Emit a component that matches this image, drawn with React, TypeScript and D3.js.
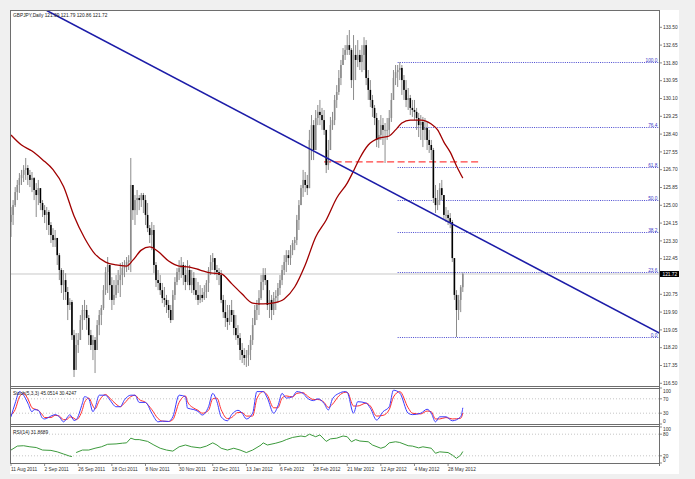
import React from 'react';
import * as d3 from 'd3';

const W = 695, H = 479;

// ---- price data (daily bars, index 0 = 11 Aug 2011) ----
const firstOpen = 124.2;
const closes = [
  124.54, 125.01, 125.63, 125.97, 126.30, 126.45, 126.69, 126.78, 126.45, 126.21,
  126.30, 125.73, 125.49, 125.82, 125.11, 124.77, 124.54, 124.68, 124.06, 123.58,
  123.34, 123.44, 122.62, 121.91, 121.19, 121.43, 120.86, 120.24, 120.38, 118.80,
  117.14, 118.33, 118.57, 119.52, 120.00, 120.00, 119.62, 118.80, 118.33, 118.57,
  118.09, 119.28, 119.76, 120.09, 120.95, 121.81, 122.15, 121.19, 120.48, 120.72,
  121.19, 121.43, 121.67, 122.00, 122.15, 122.29, 122.38, 125.97, 124.77, 125.25,
  125.35, 125.25, 125.49, 125.25, 124.54, 123.91, 123.58, 123.82, 122.15, 121.43,
  121.29, 120.95, 120.57, 120.48, 120.24, 120.00, 119.52, 120.72, 121.34, 121.81,
  122.00, 122.15, 121.67, 121.34, 121.91, 121.19, 121.53, 120.95, 120.72, 120.48,
  120.72, 120.57, 120.86, 121.29, 121.91, 122.29, 122.48, 121.91, 121.81, 121.67,
  120.48, 119.90, 119.62, 119.43, 120.00, 119.76, 119.14, 118.80, 118.66, 118.09,
  117.85, 117.71, 117.85, 118.09, 118.57, 119.28, 120.00, 120.24, 120.57, 121.34,
  121.67, 121.43, 120.24, 120.48, 120.00, 120.57, 120.67, 121.05, 121.43, 121.91,
  122.29, 122.62, 122.48, 122.86, 123.20, 123.34, 124.30, 125.01, 125.82, 126.21,
  125.97, 125.82, 128.12, 128.83, 127.64, 129.17, 129.46, 129.31, 129.07, 128.60,
  126.92, 127.64, 128.83, 129.07, 130.03, 130.41, 131.08, 131.70, 132.18, 132.42,
  132.65, 132.42, 130.98, 132.18, 131.94, 132.18, 131.84, 132.18, 132.65, 131.08,
  130.51, 130.03, 129.65, 129.17, 128.12, 128.36, 128.83, 128.60, 128.60, 128.60,
  129.17, 130.03, 131.08, 131.36, 131.46, 131.56, 130.98, 130.51, 130.03, 130.12,
  129.65, 129.55, 129.46, 129.17, 128.83, 128.98, 128.60, 128.69, 128.12, 127.88,
  127.64, 125.35, 125.01, 125.25, 125.82, 125.49, 124.54, 124.54, 124.39, 124.20,
  122.48, 120.72, 120.00, 120.48, 121.09, 121.72,
];
const highs = [
  124.92, 125.25, 125.87, 126.21, 126.54, 126.69, 126.92, 127.26, 126.92, 126.69,
  126.59, 126.35, 126.06, 126.21, 125.73, 125.25, 125.01, 124.92, 124.77, 124.20,
  123.91, 123.82, 123.34, 122.72, 122.00, 121.91, 121.76, 121.10, 120.57, 120.48,
  119.05, 118.90, 118.90, 119.76, 120.24, 120.48, 120.24, 119.76, 119.05, 118.80,
  118.71, 119.52, 120.00, 120.24, 121.19, 122.05, 122.53, 121.91, 121.57, 121.43,
  121.67, 121.91, 122.24, 122.29, 122.38, 122.53, 122.62, 127.26, 125.97, 125.49,
  125.73, 125.49, 125.59, 125.59, 125.49, 125.11, 124.06, 124.20, 124.06, 122.29,
  121.91, 121.67, 121.29, 121.10, 120.72, 120.48, 120.24, 120.95, 121.57, 122.00,
  122.38, 122.53, 122.29, 122.15, 122.38, 122.15, 121.91, 121.81, 121.53, 121.34,
  121.19, 121.05, 121.19, 121.43, 122.05, 122.62, 122.72, 122.48, 122.15, 122.00,
  121.91, 120.72, 120.48, 120.24, 120.24, 120.48, 120.00, 119.76, 119.28, 118.90,
  118.42, 118.18, 118.09, 118.33, 118.80, 119.62, 120.24, 120.48, 120.95, 121.67,
  122.00, 122.00, 121.34, 120.95, 120.72, 120.86, 120.95, 121.29, 121.67, 122.15,
  122.62, 122.86, 122.86, 123.10, 123.34, 123.49, 124.54, 125.25, 125.97, 126.69,
  126.59, 126.45, 128.60, 129.31, 129.07, 129.55, 129.79, 130.03, 129.65, 129.55,
  128.60, 128.12, 129.22, 129.46, 130.27, 130.74, 131.46, 131.94, 132.51, 132.65,
  133.13, 133.37, 132.51, 133.13, 132.65, 132.89, 132.42, 132.65, 133.03, 132.89,
  131.46, 130.98, 130.27, 129.79, 129.41, 129.07, 129.31, 129.17, 128.93, 129.17,
  129.55, 130.36, 131.46, 131.70, 131.70, 131.84, 131.70, 131.22, 130.98, 130.60,
  130.27, 130.03, 130.03, 129.65, 129.41, 129.31, 129.22, 129.17, 128.98, 128.60,
  128.12, 127.74, 125.97, 125.73, 126.06, 126.21, 125.49, 124.92, 124.77, 124.63,
  124.30, 122.48, 120.95, 120.72, 121.19, 121.79,
];
const lows = [
  123.49, 124.06, 124.92, 125.25, 125.59, 125.97, 126.11, 126.21, 125.97, 125.87,
  125.63, 125.25, 124.44, 125.01, 124.77, 124.44, 124.15, 123.82, 123.58, 123.20,
  123.01, 123.01, 122.15, 121.43, 120.81, 120.48, 120.48, 119.52, 120.00, 118.57,
  116.80, 117.37, 117.95, 118.57, 119.05, 119.52, 119.05, 118.33, 118.09, 117.61,
  116.99, 118.09, 118.80, 119.28, 120.00, 120.72, 120.81, 120.48, 120.00, 120.24,
  120.57, 120.81, 120.62, 121.19, 121.57, 121.81, 121.91, 121.81, 124.30, 124.06,
  124.54, 124.77, 124.92, 124.63, 124.06, 123.72, 123.20, 122.86, 121.76, 121.10,
  120.95, 120.72, 120.33, 120.14, 119.86, 119.62, 119.38, 119.76, 120.48, 121.19,
  121.43, 121.53, 121.19, 120.95, 121.19, 120.95, 120.81, 120.72, 120.48, 120.24,
  120.33, 120.38, 120.48, 120.57, 120.86, 121.67, 121.91, 121.67, 121.43, 121.19,
  120.33, 119.62, 119.19, 119.05, 119.28, 119.43, 118.80, 118.57, 118.33, 117.61,
  117.47, 117.37, 117.28, 117.33, 117.61, 118.33, 119.28, 119.52, 119.76, 120.48,
  120.95, 121.19, 120.00, 119.62, 119.52, 119.76, 120.00, 120.33, 120.72, 121.19,
  121.67, 121.81, 122.15, 122.15, 122.62, 122.86, 123.10, 123.82, 125.01, 125.40,
  125.63, 125.49, 125.97, 127.16, 127.16, 128.36, 128.83, 128.83, 128.60, 128.36,
  126.54, 126.69, 128.12, 128.60, 128.83, 129.65, 130.27, 130.74, 131.70, 131.94,
  132.18, 132.18, 130.60, 130.03, 130.98, 131.60, 131.46, 131.36, 131.46, 130.74,
  130.03, 129.69, 129.22, 128.83, 127.78, 127.74, 128.12, 127.88, 127.02, 128.12,
  128.36, 128.98, 130.03, 130.74, 130.65, 130.98, 130.27, 130.03, 129.69, 129.55,
  129.31, 129.22, 129.07, 128.60, 128.26, 128.12, 127.78, 128.12, 127.64, 127.50,
  127.16, 125.11, 124.63, 124.77, 125.01, 125.25, 124.30, 124.20, 124.06, 123.91,
  122.29, 120.48, 118.71, 119.52, 119.90, 120.86,
];

// moving average (sampled at bar indices)
const maIdx = [0, 5, 10, 15, 20, 25, 30, 35, 40, 45, 50, 55, 58, 62, 66, 70, 75, 80, 85, 90, 95, 100, 105, 110, 115, 120, 125, 130, 135, 140, 145, 150, 155, 160, 163, 166, 170, 175, 180, 183, 186, 190, 195, 200, 203, 206, 209, 212, 215];
const maVal = [128.36, 127.88, 127.59, 127.18, 126.70, 125.90, 124.49, 123.44, 122.67, 122.29, 122.15, 122.10, 122.38, 122.86, 123.01, 122.79, 122.34, 122.10, 122.05, 121.91, 121.77, 121.72, 121.26, 120.76, 120.33, 120.29, 120.34, 120.53, 121.10, 122.15, 123.49, 124.30, 125.35, 126.06, 126.64, 127.26, 127.88, 128.21, 128.31, 128.60, 128.93, 129.07, 129.07, 128.88, 128.60, 128.02, 127.54, 126.88, 126.30];

// stochastic (5,3,3)
const stochIdx = [0, 2, 4, 6, 8, 10, 11, 13, 15, 16, 19, 21, 23, 25, 27, 28, 30, 31, 34, 35, 37, 39, 40, 42, 45, 47, 50, 52, 54, 57, 59, 61, 64, 67, 70, 72, 75, 77, 80, 83, 84, 87, 89, 91, 94, 96, 98, 100, 103, 105, 108, 110, 112, 115, 117, 120, 122, 125, 127, 129, 131, 134, 136, 139, 141, 144, 146, 149, 151, 153, 156, 159, 160, 163, 165, 169, 171, 174, 177, 180, 182, 185, 189, 191, 195, 198, 200, 202, 204, 207, 210, 214, 215];
const stochK = [20, 58, 90, 80, 58, 34, 40, 38, 16, 14, 22, 26, 20, 6, 20, 26, 10, 12, 58, 76, 70, 34, 45, 80, 80, 67, 48, 48, 67, 80, 80, 60, 60, 30, 6, 8, 7, 20, 80, 76, 44, 40, 35, 25, 48, 85, 62, 20, 9, 26, 38, 30, 14, 30, 90, 90, 72, 30, 50, 85, 72, 76, 90, 85, 72, 65, 70, 57, 39, 70, 85, 90, 88, 30, 62, 58, 44, 11, 34, 48, 94, 86, 30, 26, 30, 41, 30, 6, 20, 20, 9, 20, 45.05];
const stochD = [25, 40, 75, 85, 70, 45, 42, 38, 25, 18, 18, 24, 22, 12, 14, 20, 16, 12, 40, 60, 72, 50, 42, 65, 82, 72, 55, 48, 58, 76, 80, 68, 60, 40, 15, 8, 7, 12, 60, 78, 62, 44, 38, 30, 38, 70, 72, 40, 15, 18, 32, 32, 22, 22, 70, 90, 80, 45, 45, 72, 78, 75, 85, 87, 78, 68, 68, 60, 46, 55, 78, 88, 88, 50, 50, 58, 50, 22, 24, 40, 75, 90, 45, 30, 28, 36, 34, 14, 14, 18, 14, 16, 30.42];

// RSI(14)
const rsiIdx = [0, 3, 6, 9, 12, 15, 19, 22, 25, 28, 29, 30, 31, 34, 37, 40, 43, 46, 50, 53, 55, 57, 59, 61, 65, 68, 71, 74, 77, 80, 83, 86, 90, 93, 96, 98, 100, 103, 106, 109, 112, 115, 119, 120, 122, 126, 129, 131, 134, 138, 140, 142, 145, 147, 150, 152, 155, 158, 160, 162, 164, 166, 170, 172, 176, 178, 180, 183, 185, 189, 191, 194, 196, 200, 202, 204, 208, 210, 212, 214, 215];
const rsiVal: (number | null)[] = [36, 47, 48, 45, 43, 36, 35, 31, 25, 19, 18, null, 29, 36, 36, 41, 45, 52, 53, 55, 56, 69, 65, 65, 60, 50, 41, 36, 33, 45, 50, 45, 42, 47, 56, 50, 41, 36, 41, 36, 29, 36, 50, 56, 50, 55, 60, 65, 71, 75, 73, 80, 73, 78, 60, 67, 69, 75, 73, 59, 65, 61, 59, 50, 41, 45, 56, 59, 57, 48, 47, 42, 45, 41, 27, 31, 29, 22, 13, 22, 31.87];

// objects
const trendBars = [17, 308];
const trendPrices = [134.30, 118.93];
const fibLow = 118.71, fibHigh = 131.84, fibStartBar = 184;
const fibLevels = [0, 23.6, 38.2, 50, 61.8, 76.4, 100];
const fibLabels = ['0.0', '23.6', '38.2', '50.0', '61.8', '76.4', '100.0'];
const dashLevel = 127.07, dashBars = [149, 223];
const lastPrice = 121.72;

const priceTicks = [133.50, 132.65, 131.80, 130.95, 130.10, 129.25, 128.40, 127.55, 126.70, 125.85, 125.00, 124.15, 123.30, 122.45, 120.75, 119.90, 119.05, 118.20, 117.35, 116.50];
const dateLabels = ['11 Aug 2011', '2 Sep 2011', '26 Sep 2011', '18 Oct 2011', '8 Nov 2011', '30 Nov 2011', '22 Dec 2011', '13 Jan 2012', '6 Feb 2012', '28 Feb 2012', '21 Mar 2012', '12 Apr 2012', '4 May 2012', '28 May 2012'];
const dateBars = [0, 16, 32, 48, 64, 80, 96, 112, 128, 144, 160, 176, 192, 208];
const stochTicks = [100, 70, 30, 0];
const rsiTicks = [100, 80, 20, 0];

const FONT = 'Liberation Sans, Arial, sans-serif';
const FS = 4.8;

export default function App() {
  const L = 10, R = 660;
  const x = d3.scaleLinear().domain([0, 208]).range([11, 448.1]);
  const y = d3.scaleLinear().domain([116.5, 133.5]).range([383.3, 27.3]);
  const ys = d3.scaleLinear().domain([0, 100]).range([424, 388]);
  const yr = d3.scaleLinear().domain([0, 100]).range([463, 427]);

  const opens = closes.map((c, i) => (i === 0 ? firstOpen : closes[i - 1]));

  const maLine = d3.line<number>().x((_, i) => x(maIdx[i])).y(v => y(v)).curve(d3.curveMonotoneX)(maVal) || '';
  const kLine = d3.line<number>().x((_, i) => x(stochIdx[i])).y(v => ys(v)).curve(d3.curveMonotoneX)(stochK) || '';
  const dLine = d3.line<number>().x((_, i) => x(stochIdx[i])).y(v => ys(v)).curve(d3.curveMonotoneX)(stochD) || '';
  const rLine = d3.line<number | null>().defined(v => v !== null).x((_, i) => x(rsiIdx[i])).y(v => yr(v as number))(rsiVal) || '';

  // trend line extended to the right edge
  const tx1 = x(trendBars[0]), ty1 = y(trendPrices[0]);
  const tx2 = x(trendBars[1]), ty2 = y(trendPrices[1]);
  const slope = (ty2 - ty1) / (tx2 - tx1);
  const tEndX = R + 5, tEndY = ty1 + slope * (tEndX - tx1);

  const fibX = x(fibStartBar);
  const lastY = y(lastPrice);

  return (
    <svg width={W} height={H} style={{ position: 'absolute', left: 0, top: 0, fontFamily: FONT }}>
      <defs>
        <clipPath id="cMain"><rect x={L} y={10} width={R - L} height={376} /></clipPath>
        <clipPath id="cSto"><rect x={L} y={388} width={R - L} height={36} /></clipPath>
        <clipPath id="cRsi"><rect x={L} y={427} width={R - L} height={36} /></clipPath>
      </defs>
      <rect x={0} y={0} width={W} height={H} fill="#f0f0f0" />
      <rect x={L} y={10} width={679 - L} height={464} fill="#ffffff" />

      {/* current price line */}
      <line x1={L} x2={R} y1={lastY} y2={lastY} stroke="#c8c8c8" strokeWidth={1} />

      <g clipPath="url(#cMain)">
        {/* fibonacci */}
        {fibLevels.map((lv, k) => {
          const py = Math.round(y(fibLow + (fibHigh - fibLow) * lv / 100)) + 0.5;
          return (
            <g key={'f' + k}>
              <line x1={fibX} x2={R} y1={py} y2={py} stroke="#4a4ad0" strokeWidth={1} strokeDasharray="1,1.2" />
              <text x={657.5} y={py - 1} fontSize={FS} fill="#3a3ac8" textAnchor="end">{fibLabels[k]}</text>
            </g>
          );
        })}
        {/* red dashed */}
        <line x1={x(dashBars[0])} x2={x(dashBars[1])} y1={y(dashLevel)} y2={y(dashLevel)} stroke="#ff4040" strokeWidth={1.2} strokeDasharray="7,3.5" />

        {/* candles */}
        {closes.map((c, i) => {
          const o = opens[i];
          const hi = Math.max(highs[i], o, c), lo = Math.min(lows[i], o, c);
          const xi = x(i);
          const bear = c < o;
          const top = y(Math.max(o, c)), bot = y(Math.min(o, c));
          return (
            <g key={'c' + i}>
              <line x1={xi} x2={xi} y1={y(hi)} y2={y(lo)} stroke="#8c8c8c" strokeWidth={1} />
              <rect x={xi - 0.8} y={top} width={1.6} height={Math.max(0.8, bot - top)} fill={bear ? '#000000' : '#8c8c8c'} />
            </g>
          );
        })}

        {/* moving average */}
        <path d={maLine} fill="none" stroke="#a00000" strokeWidth={1.3} />
        {/* trend line */}
        <line x1={tx1} y1={ty1} x2={tEndX} y2={tEndY} stroke="#1c1ca8" strokeWidth={1.6} />
      </g>

      {/* stochastic panel */}
      {[70, 30].map(v => (
        <line key={'sl' + v} x1={L} x2={R} y1={ys(v)} y2={ys(v)} stroke="#b8b8b8" strokeWidth={0.8} strokeDasharray="1,2" />
      ))}
      <g clipPath="url(#cSto)">
        <path d={dLine} fill="none" stroke="#ff3030" strokeWidth={1} />
        <path d={kLine} fill="none" stroke="#3c3cff" strokeWidth={1} />
      </g>
      <text x={13} y={395} fontSize={FS} fill="#202020">Stoch(5,3,3) 45.0514 30.4247</text>

      {/* RSI panel */}
      {[80, 20].map(v => (
        <line key={'rl' + v} x1={L} x2={R} y1={yr(v)} y2={yr(v)} stroke="#b8b8b8" strokeWidth={0.8} strokeDasharray="1,2" />
      ))}
      <g clipPath="url(#cRsi)">
        <path d={rLine} fill="none" stroke="#3c9a3c" strokeWidth={1} />
      </g>
      <text x={13} y={434} fontSize={FS} fill="#202020">RSI(14) 31.8689</text>

      {/* header */}
      <text x={13} y={16.7} fontSize={FS} fill="#202020">GBPJPY,Daily  121.09 121.79 120.86 121.72</text>

      {/* borders */}
      <g stroke="#6e6e6e" strokeWidth={1} fill="none">
        <line x1={L + 0.5} x2={L + 0.5} y1={10} y2={463.5} />
        <line x1={L} x2={R} y1={10.5} y2={10.5} />
        <line x1={R - 0.5} x2={R - 0.5} y1={10} y2={466} />
        <line x1={L} x2={R} y1={386.5} y2={386.5} />
        <line x1={L} x2={R} y1={388.5} y2={388.5} />
        <line x1={L} x2={R} y1={424.5} y2={424.5} />
        <line x1={L} x2={R} y1={426.5} y2={426.5} />
        <line x1={L} x2={R} y1={463.5} y2={463.5} />
      </g>

      {/* price axis */}
      {priceTicks.map(p => (
        <g key={'p' + p}>
          <line x1={R} x2={R + 2} y1={y(p)} y2={y(p)} stroke="#6e6e6e" strokeWidth={0.8} />
          <text x={663} y={y(p) + 1.7} fontSize={FS} fill="#303030">{p.toFixed(2)}</text>
        </g>
      ))}
      <rect x={R} y={lastY - 3} width={19} height={6} fill="#000" />
      <text x={662.5} y={lastY + 1.7} fontSize={FS} fill="#fff">{lastPrice.toFixed(2)}</text>

      {/* stoch / rsi scale labels */}
      {stochTicks.map(v => (
        <g key={'st' + v}>
          <line x1={R} x2={R + 2} y1={ys(v)} y2={ys(v)} stroke="#6e6e6e" strokeWidth={0.8} />
          <text x={663} y={Math.min(Math.max(ys(v) + 1.7, 393.4), 423.4)} fontSize={FS} fill="#303030">{v}</text>
        </g>
      ))}
      {rsiTicks.map(v => (
        <g key={'rt' + v}>
          <line x1={R} x2={R + 2} y1={yr(v)} y2={yr(v)} stroke="#6e6e6e" strokeWidth={0.8} />
          <text x={663} y={Math.min(Math.max(yr(v) + 1.7, 431), 462.4)} fontSize={FS} fill="#303030">{v}</text>
        </g>
      ))}

      {/* date axis */}
      {dateLabels.map((d, k) => (
        <g key={'d' + k}>
          <line x1={x(dateBars[k])} x2={x(dateBars[k])} y1={463.5} y2={466} stroke="#6e6e6e" strokeWidth={0.8} />
          <text x={x(dateBars[k])} y={471} fontSize={FS} fill="#303030">{d}</text>
        </g>
      ))}
    </svg>
  );
}
